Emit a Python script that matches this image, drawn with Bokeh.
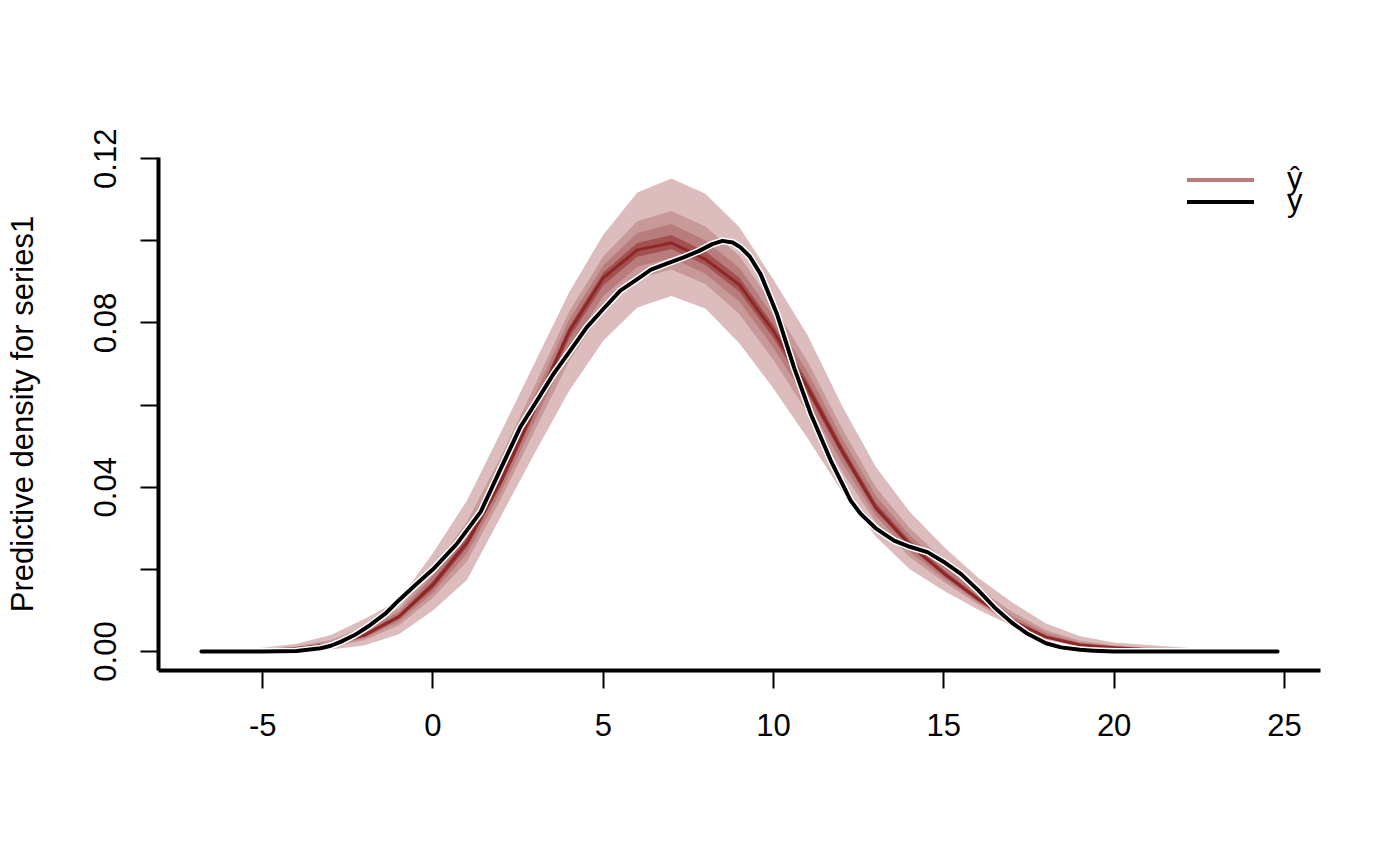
from bokeh.embed import file_html
from bokeh.models import FixedTicker, Legend, LegendItem, PrintfTickFormatter, Range1d
from bokeh.plotting import figure
from bokeh.resources import INLINE

FONT = "Liberation Sans"

# grid on which the predictive quantiles are drawn
grid_x = [-6.8, -6, -5, -4, -3, -2, -1, 0, 1, 2, 3, 4, 5, 6, 7, 8, 9, 10,
          11, 12, 13, 14, 15, 16, 17, 18, 19, 20, 21, 22, 23, 24, 24.8]

q10 = [0.0000, 0.0000, 0.0000, 0.0001, 0.0005, 0.0015, 0.0042, 0.0100, 0.0175,
       0.0330, 0.0485, 0.0635, 0.0757, 0.0838, 0.0866, 0.0835, 0.0750, 0.0640,
       0.0519, 0.0390, 0.0280, 0.0200, 0.0148, 0.0102, 0.0062, 0.0028, 0.0011,
       0.0004, 0.0001, 0.0000, 0.0000, 0.0000, 0.0000]
q20 = [0.0000, 0.0000, 0.0002, 0.0004, 0.0011, 0.0028, 0.0064, 0.0131, 0.0220,
       0.0372, 0.0540, 0.0708, 0.0833, 0.0908, 0.0930, 0.0895, 0.0821, 0.0710,
       0.0581, 0.0440, 0.0315, 0.0230, 0.0169, 0.0115, 0.0068, 0.0032, 0.0014,
       0.0006, 0.0002, 0.0001, 0.0000, 0.0000, 0.0000]
q30 = [0.0000, 0.0001, 0.0002, 0.0005, 0.0014, 0.0033, 0.0073, 0.0143, 0.0239,
       0.0390, 0.0563, 0.0738, 0.0866, 0.0937, 0.0958, 0.0920, 0.0852, 0.0739,
       0.0607, 0.0461, 0.0330, 0.0243, 0.0178, 0.0120, 0.0071, 0.0033, 0.0015,
       0.0008, 0.0003, 0.0001, 0.0000, 0.0000, 0.0000]
q40 = [0.0000, 0.0001, 0.0003, 0.0006, 0.0016, 0.0037, 0.0080, 0.0153, 0.0254,
       0.0405, 0.0582, 0.0763, 0.0892, 0.0961, 0.0980, 0.0941, 0.0876, 0.0763,
       0.0628, 0.0478, 0.0342, 0.0253, 0.0185, 0.0125, 0.0073, 0.0034, 0.0015,
       0.0008, 0.0004, 0.0002, 0.0001, 0.0000, 0.0000]
q50 = [0.0000, 0.0001, 0.0003, 0.0007, 0.0017, 0.0040, 0.0085, 0.0163, 0.0265,
       0.0415, 0.0595, 0.0780, 0.0910, 0.0978, 0.0995, 0.0955, 0.0893, 0.0780,
       0.0643, 0.0490, 0.0350, 0.0260, 0.0190, 0.0128, 0.0074, 0.0035, 0.0016,
       0.0009, 0.0004, 0.0002, 0.0001, 0.0000, 0.0000]
q60 = [0.0000, 0.0001, 0.0004, 0.0008, 0.0020, 0.0045, 0.0090, 0.0172, 0.0277,
       0.0429, 0.0608, 0.0791, 0.0923, 0.0995, 0.1014, 0.0974, 0.0910, 0.0795,
       0.0658, 0.0503, 0.0362, 0.0270, 0.0198, 0.0134, 0.0080, 0.0039, 0.0019,
       0.0011, 0.0005, 0.0003, 0.0001, 0.0000, 0.0000]
q70 = [0.0000, 0.0002, 0.0005, 0.0010, 0.0024, 0.0052, 0.0097, 0.0185, 0.0295,
       0.0450, 0.0627, 0.0808, 0.0940, 0.1019, 0.1041, 0.1001, 0.0934, 0.0816,
       0.0680, 0.0522, 0.0379, 0.0283, 0.0209, 0.0143, 0.0087, 0.0045, 0.0022,
       0.0013, 0.0007, 0.0004, 0.0002, 0.0001, 0.0000]
q80 = [0.0000, 0.0002, 0.0006, 0.0013, 0.0028, 0.0060, 0.0105, 0.0200, 0.0316,
       0.0475, 0.0650, 0.0828, 0.0962, 0.1048, 0.1073, 0.1035, 0.0963, 0.0842,
       0.0706, 0.0545, 0.0400, 0.0300, 0.0222, 0.0154, 0.0097, 0.0052, 0.0026,
       0.0015, 0.0010, 0.0006, 0.0003, 0.0001, 0.0000]
q90 = [0.0001, 0.0004, 0.0009, 0.0019, 0.0040, 0.0080, 0.0125, 0.0240, 0.0368,
       0.0535, 0.0705, 0.0875, 0.1015, 0.1118, 0.1152, 0.1115, 0.1033, 0.0905,
       0.0770, 0.0600, 0.0450, 0.0340, 0.0255, 0.0180, 0.0120, 0.0068, 0.0037,
       0.0022, 0.0016, 0.0010, 0.0005, 0.0002, 0.0001]

# observed density
obs_x = [-6.8, -5, -4, -3.3, -3, -2.7, -2.3, -1.85, -1.4, -1, -0.5, 0, 0.7,
         1.4, 2, 2.56, 3, 3.54, 4, 4.52, 5, 5.5, 6, 6.4, 6.9, 7.36, 7.8, 8.2,
         8.5, 8.8, 9.03, 9.3, 9.62, 10.1, 10.6, 11.09, 11.68, 12.26, 12.56,
         13, 13.54, 14, 14.52, 15, 15.5, 16, 16.48, 17, 17.46, 18, 18.44, 19,
         19.4, 20, 21, 22, 23, 24, 24.8]
obs_y = [0.0000, 0.0000, 0.0001, 0.0008, 0.0014, 0.0024, 0.0040, 0.0064,
         0.0092, 0.0125, 0.0163, 0.0200, 0.0262, 0.0340, 0.0447, 0.0546,
         0.0604, 0.0676, 0.0729, 0.0790, 0.0834, 0.0879, 0.0907, 0.0930,
         0.0946, 0.0960, 0.0975, 0.0992, 0.1000, 0.0996, 0.0984, 0.0962,
         0.0919, 0.0822, 0.0692, 0.0579, 0.0465, 0.0368, 0.0335, 0.0300,
         0.0270, 0.0255, 0.0242, 0.0218, 0.0189, 0.0150, 0.0108, 0.0070,
         0.0043, 0.0020, 0.0010, 0.0004, 0.0002, 0.0000, 0.0000, 0.0000,
         0.0000, 0.0000, 0.0000]

x_ticks = [-5, 0, 5, 10, 15, 20, 25]
y_ticks = [0.0, 0.04, 0.08, 0.12]
y_minor = [0.02, 0.06, 0.10]

c_light = "#DCBCBC"
c_light_hl = "#C79999"
c_mid = "#B97C7C"
c_mid_hl = "#A25050"
c_dark = "#8F2727"

p = figure(width=1384, height=850, output_backend="svg", toolbar_location=None,
           x_range=Range1d(-8.06, 26.06), y_range=Range1d(-0.00463, 0.1203),
           min_border_left=158, min_border_right=64,
           min_border_top=157, min_border_bottom=180)
p.outline_line_color = None
p.xgrid.visible = False
p.ygrid.visible = False

# predictive median in c_mid, hidden under the bands; it carries the legend entry
r_hat = p.line(grid_x, q50, line_color=c_mid, line_width=4, line_cap="round")

p.varea(x=grid_x, y1=q10, y2=q90, fill_color=c_light)
p.varea(x=grid_x, y1=q20, y2=q80, fill_color=c_light_hl)
p.varea(x=grid_x, y1=q30, y2=q70, fill_color=c_mid)
p.varea(x=grid_x, y1=q40, y2=q60, fill_color=c_mid_hl)
p.line(grid_x, q50, line_color=c_dark, line_width=3, line_join="round")

p.line(obs_x, obs_y, line_color="white", line_width=7,
       line_join="round", line_cap="round")
r_obs = p.line(obs_x, obs_y, line_color="black", line_width=4,
               line_join="round", line_cap="round")

for ax in (p.xaxis[0], p.yaxis[0]):
    ax.axis_line_width = 4
    ax.major_tick_line_width = 2
    ax.major_tick_out = 18
    ax.major_tick_in = 0
    ax.major_label_text_font = FONT
    ax.major_label_text_font_size = "31px"
    ax.major_label_text_color = "black"
    ax.axis_label_text_font = FONT
    ax.axis_label_text_font_size = "31px"
    ax.axis_label_text_font_style = "normal"
    ax.axis_label_text_color = "black"

p.xaxis.ticker = FixedTicker(ticks=x_ticks)
p.xaxis.formatter = PrintfTickFormatter(format="%d")
p.xaxis.minor_tick_line_color = None
p.xaxis.major_label_standoff = 25

p.yaxis.ticker = FixedTicker(ticks=y_ticks, minor_ticks=y_minor)
p.yaxis.formatter = PrintfTickFormatter(format="%.2f")
p.yaxis.minor_tick_out = 18
p.yaxis.minor_tick_in = 0
p.yaxis.minor_tick_line_width = 2
p.yaxis.minor_tick_line_color = "black"
p.yaxis.major_label_orientation = "parallel"
p.yaxis.major_label_standoff = 24
p.yaxis.axis_label = "Predictive density for series1"
p.yaxis.axis_label_standoff = 52

# two one-item legends so that the entries sit as close as in the original
legend_style = dict(padding=0, margin=0, glyph_width=67, glyph_height=43,
                    label_height=31, label_standoff=33, label_text_font=FONT,
                    label_text_font_size="31px", label_text_color="black",
                    border_line_color=None, background_fill_alpha=0)
legend_hat = Legend(items=[LegendItem(label="ŷ", renderers=[r_hat])],
                    location=(1029, 469.5), **legend_style)
legend_obs = Legend(items=[LegendItem(label="y", renderers=[r_obs])],
                    location=(1029, 447.5), **legend_style)
p.add_layout(legend_hat)
p.add_layout(legend_obs)

open("out.html", "w").write(file_html(p, INLINE))
